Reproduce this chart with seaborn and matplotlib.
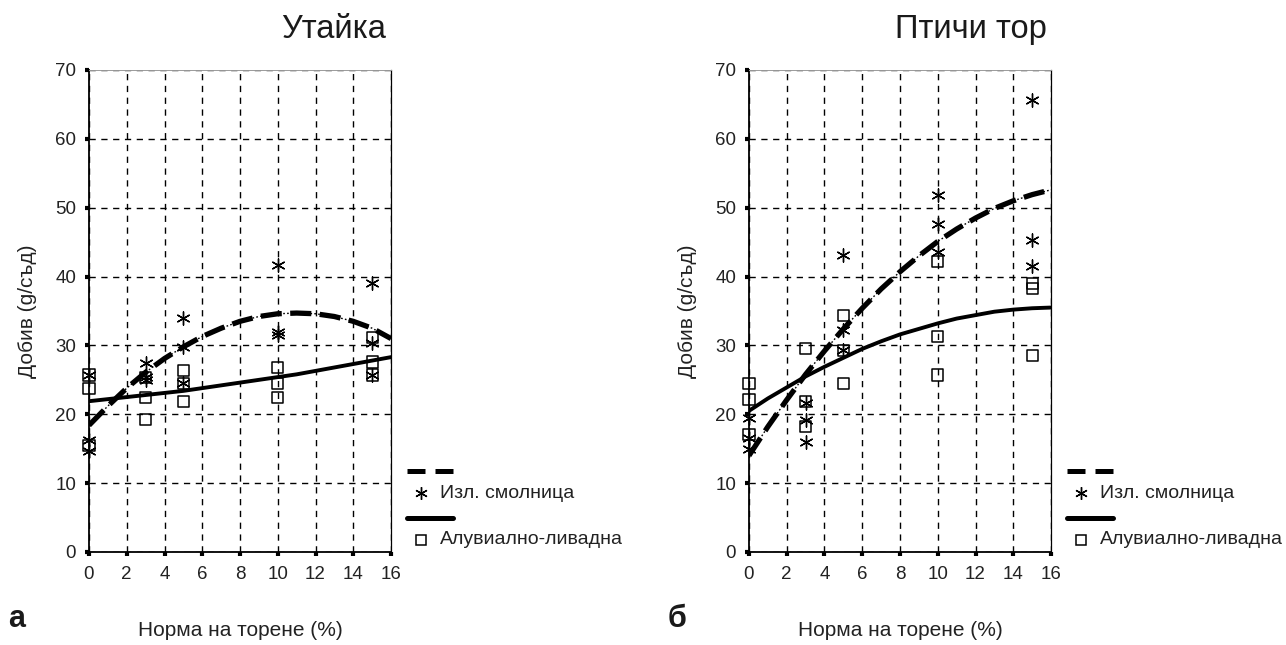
import numpy as np
import pandas as pd
import matplotlib
matplotlib.use("Agg")
import matplotlib.pyplot as plt
from matplotlib.lines import Line2D
import seaborn as sns

# ---------------- data ----------------
titles = ["Утайка", "Птичи тор"]
panel_letters = ["а", "б"]
series_names = ["Изл. смолница", "Алувиално-ливадна"]
x_label = "Норма на торене (%)"
y_label = "Добив (g/съд)"
x_ticks = [0, 2, 4, 6, 8, 10, 12, 14, 16]
y_ticks = [0, 10, 20, 30, 40, 50, 60, 70]

# Panel а (Утайка) – observed points
a_smol_x = [0, 0, 0, 3, 3, 3, 5, 5, 5, 10, 10, 10, 15, 15, 15]
a_smol_y = [25.7, 16.2, 14.6, 27.4, 25.4, 25.0, 34.0, 29.8, 24.5, 41.7, 31.9, 31.5, 39.1, 30.3, 25.7]
a_aluv_x = [0, 0, 0, 3, 3, 3, 5, 5, 5, 10, 10, 10, 15, 15, 15]
a_aluv_y = [25.7, 23.7, 15.5, 25.3, 22.4, 19.2, 26.3, 24.5, 21.9, 26.8, 24.5, 22.4, 31.2, 27.6, 25.7]

# Panel б (Птичи тор) – observed points
b_smol_x = [0, 0, 0, 3, 3, 3, 5, 5, 5, 10, 10, 10, 15, 15, 15]
b_smol_y = [19.4, 16.6, 15.0, 21.6, 19.2, 16.0, 43.2, 32.2, 29.3, 51.8, 47.6, 43.6, 65.7, 45.3, 41.5]
b_aluv_x = [0, 0, 0, 3, 3, 3, 5, 5, 5, 10, 10, 10, 15, 15, 15]
b_aluv_y = [24.5, 22.2, 17.1, 29.6, 21.9, 18.2, 34.3, 29.3, 24.5, 42.2, 31.3, 25.7, 39.0, 38.3, 28.6]

# Trend curves
trend_x = [0, 1, 2, 3, 4, 5, 6, 7, 8, 9, 10, 11, 12, 13, 14, 15, 16]
a_smol_trend = [18.4, 21.2, 23.8, 26.1, 28.1, 29.8, 31.3, 32.5, 33.5, 34.2, 34.6, 34.7, 34.6, 34.2, 33.5, 32.5, 31.0]
a_aluv_trend = [21.9, 22.2, 22.5, 22.8, 23.1, 23.4, 23.8, 24.2, 24.6, 25.0, 25.4, 25.8, 26.3, 26.8, 27.3, 27.8, 28.3]
b_smol_trend = [14.0, 18.2, 22.1, 25.8, 29.2, 32.4, 35.4, 38.2, 40.7, 43.0, 45.1, 46.9, 48.5, 49.9, 51.0, 51.9, 52.6]
b_aluv_trend = [20.5, 22.3, 23.9, 25.5, 26.9, 28.2, 29.5, 30.6, 31.6, 32.4, 33.2, 33.9, 34.4, 34.9, 35.2, 35.4, 35.5]

panels = [
    dict(title=titles[0], letter=panel_letters[0],
         sx=a_smol_x, sy=a_smol_y, ax_=a_aluv_x, ay=a_aluv_y,
         st=a_smol_trend, at=a_aluv_trend),
    dict(title=titles[1], letter=panel_letters[1],
         sx=b_smol_x, sy=b_smol_y, ax_=b_aluv_x, ay=b_aluv_y,
         st=b_smol_trend, at=b_aluv_trend),
]

# ---------------- style ----------------
sns.set_style("white")
plt.rcParams["font.family"] = ["Liberation Sans", "DejaVu Sans"]

W, H = 1286, 645
fig = plt.figure(figsize=(W / 100, H / 100), dpi=100)

ax_left_px = [89, 749]
ax_top_px, ax_bot_px, ax_w_px = 70, 552, 302
title_x = [0.81, 0.735]
star_marker = (6, 2, 0)


def fx(x):
    return x / W


def fy(y):
    return 1 - y / H


for i, p in enumerate(panels):
    left = ax_left_px[i]
    ax = fig.add_axes([fx(left), fy(ax_bot_px), ax_w_px / W, (ax_bot_px - ax_top_px) / H])

    df_s = pd.DataFrame({"x": p["sx"], "y": p["sy"]})
    df_a = pd.DataFrame({"x": p["ax_"], "y": p["ay"]})
    sns.scatterplot(data=df_s, x="x", y="y", ax=ax, marker=star_marker, s=90,
                    color="black", linewidth=1.0, zorder=3, clip_on=False)
    sns.scatterplot(data=df_a, x="x", y="y", ax=ax, marker="s", s=64,
                    facecolor="none", edgecolor="black", color="black",
                    linewidth=1.1, zorder=3, clip_on=False)

    # dashed (dash-dot-dot look) trend
    sns.lineplot(x=trend_x, y=p["st"], ax=ax, color="black", linewidth=1.0,
                 linestyle=(0, (1.2, 1.6)), estimator=None, errorbar=None, zorder=4)
    sns.lineplot(x=trend_x, y=p["st"], ax=ax, color="black", linewidth=3.8,
                 linestyle=(0, (4.0, 1.6)), estimator=None, errorbar=None, zorder=5)
    # solid trend
    sns.lineplot(x=trend_x, y=p["at"], ax=ax, color="black", linewidth=2.8,
                 estimator=None, errorbar=None, zorder=5)

    ax.set_xlim(0, 16)
    ax.set_ylim(0, 70)
    ax.set_xticks(x_ticks)
    ax.set_yticks(y_ticks)
    ax.grid(True, color="black", linestyle=(0, (4.5, 4.0)), linewidth=1.0)
    ax.set_axisbelow(True)

    for side in ["left", "bottom"]:
        ax.spines[side].set_color("black")
        ax.spines[side].set_linewidth(1.3)
    ax.spines["right"].set_color("black")
    ax.spines["right"].set_linewidth(0.9)
    ax.spines["top"].set_color("#9a9a9a")
    ax.spines["top"].set_linewidth(0.7)

    ax.tick_params(axis="both", direction="out", length=3.2, width=3.0,
                   color="black", labelsize=13.5, labelcolor="#222222",
                   bottom=True, left=True, top=False, right=False)
    ax.tick_params(axis="x", pad=7)
    ax.tick_params(axis="y", pad=6)

    ax.set_title(p["title"], x=title_x[i], pad=23, fontsize=23.5, color="#1a1a1a")
    ax.set_xlabel(x_label, fontsize=15, color="#222222")
    ax.xaxis.set_label_coords(0.5, -0.143)
    ax.set_ylabel(y_label, fontsize=15, color="#222222")
    ax.yaxis.set_label_coords(-0.172, 0.5)

    # panel letter
    fig.text(fx(8 + (left - 89)), fy(627), p["letter"], fontsize=22,
             fontweight="bold", va="baseline", ha="left", color="#1a1a1a")

    # Excel-like legend to the right of the plot
    dx = left - 89
    fig.add_artist(Line2D([fx(407 + dx), fx(453 + dx)], [fy(470.5), fy(470.5)],
                          color="black", linewidth=3.6,
                          linestyle=(0, (3.6, 2.0)), transform=fig.transFigure))
    fig.add_artist(Line2D([fx(421 + dx)], [fy(493)], marker=star_marker,
                          markersize=9, markeredgewidth=1.0, color="black",
                          linestyle="none", transform=fig.transFigure))
    fig.text(fx(440 + dx), fy(493), series_names[0], fontsize=14,
             va="center", ha="left", color="#222222")
    fig.add_artist(Line2D([fx(407 + dx), fx(453 + dx)], [fy(518), fy(518)],
                          color="black", linewidth=3.6, transform=fig.transFigure))
    fig.add_artist(Line2D([fx(421 + dx)], [fy(540)], marker="s",
                          markersize=7.5, markeredgewidth=1.1,
                          markerfacecolor="none", markeredgecolor="black",
                          linestyle="none", transform=fig.transFigure))
    fig.text(fx(440 + dx), fy(540), series_names[1], fontsize=14,
             va="center", ha="left", color="#222222")

fig.savefig("out.png", dpi=100, facecolor="white")
